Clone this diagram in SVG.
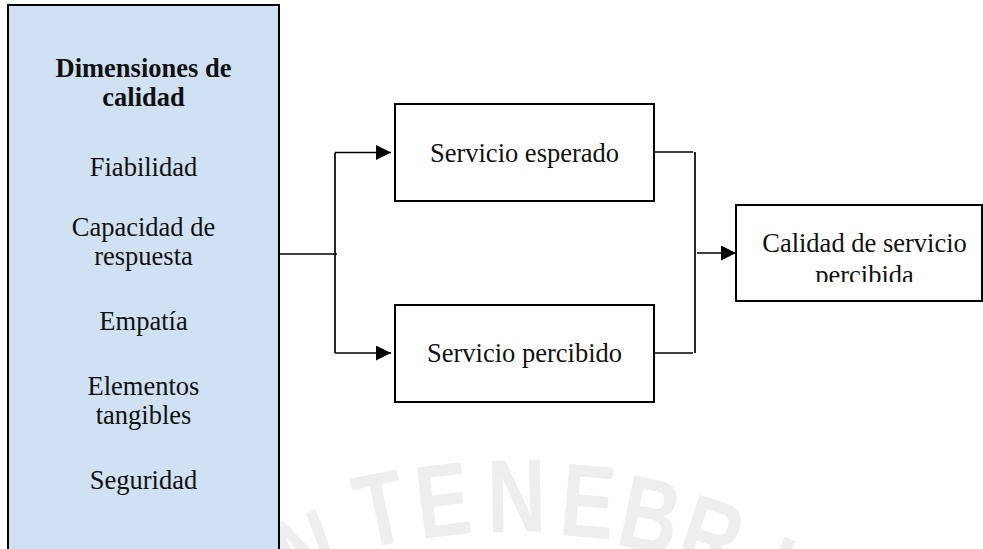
<svg xmlns="http://www.w3.org/2000/svg" width="983" height="549" viewBox="0 0 983 549">
  <style>
    .box { fill: #ffffff; stroke: #000000; stroke-width: 2; }
    .panel { fill: #cfe1f3; stroke: #000000; stroke-width: 2; }
    .lbl { font-family: "Liberation Serif", "Times New Roman", serif; font-size: 26.5px; fill: #111111; text-anchor: middle; }
    .hd { font-weight: bold; }
    .wire { fill: none; stroke: #000000; stroke-width: 1.7; }
    .mark { font-family: "Liberation Sans", Arial, sans-serif; font-weight: bold; font-size: 104px; fill: #eeeeee; text-anchor: middle; }
  </style>
  <defs>
    <marker id="arrow" markerWidth="15" markerHeight="15" viewBox="0 0 15 15" refX="15" refY="7.5" markerUnits="userSpaceOnUse" orient="auto">
      <path d="M0,0 L15,7.5 L0,15 Z" fill="#000000"/>
    </marker>
    <clipPath id="clipOut">
      <rect x="736" y="205" width="246" height="77"/>
    </clipPath>
  </defs>

  <rect width="983" height="549" fill="#ffffff"/>

  <!-- faint seal lettering in the background, one condensed letter per glyph along an arc -->
  <g id="seal">
    <text class="mark" transform="translate(318,585) rotate(-20) scale(0.78,1)">N</text>
    <text class="mark" transform="translate(388,544) rotate(-12) scale(0.78,1)">T</text>
    <text class="mark" transform="translate(447,536) rotate(-7) scale(0.78,1)">E</text>
    <text class="mark" transform="translate(517,532) rotate(-1) scale(0.78,1)">N</text>
    <text class="mark" transform="translate(585,537) rotate(5) scale(0.78,1)">E</text>
    <text class="mark" transform="translate(643,550) rotate(12) scale(0.78,1)">B</text>
    <text class="mark" transform="translate(700,570) rotate(18) scale(0.78,1)">R</text>
    <text class="mark" transform="translate(760,604) rotate(25) scale(0.78,1)">I</text>
  </g>

  <!-- left panel: quality dimensions -->
  <g id="dimensiones">
    <rect class="panel" x="8" y="5" width="271" height="570"/>
    <text class="lbl hd" x="143.5" y="77">Dimensiones de</text>
    <text class="lbl hd" x="143.5" y="106">calidad</text>
    <text class="lbl" x="143.5" y="176">Fiabilidad</text>
    <text class="lbl" x="143.5" y="236">Capacidad de</text>
    <text class="lbl" x="143.5" y="265">respuesta</text>
    <text class="lbl" x="143.5" y="330">Empatía</text>
    <text class="lbl" x="143.5" y="395">Elementos</text>
    <text class="lbl" x="143.5" y="424">tangibles</text>
    <text class="lbl" x="143.5" y="489">Seguridad</text>
  </g>

  <g id="esperado">
    <rect class="box" x="395" y="104" width="259" height="97"/>
    <text class="lbl" x="524.5" y="162">Servicio esperado</text>
  </g>

  <g id="percibido">
    <rect class="box" x="395" y="305" width="259" height="97"/>
    <text class="lbl" x="524.5" y="362">Servicio percibido</text>
  </g>

  <g id="calidad-percibida">
    <rect class="box" x="736" y="205" width="246" height="96"/>
    <g clip-path="url(#clipOut)">
      <text class="lbl" x="864.5" y="252">Calidad de servicio</text>
      <text class="lbl" x="864.5" y="284">percibida</text>
    </g>
  </g>

  <g id="connectors">
    <path class="wire" d="M279,254 H337"/>
    <path class="wire" d="M335,152.5 V353"/>
    <path class="wire" d="M335,152.5 H391" marker-end="url(#arrow)"/>
    <path class="wire" d="M335,353 H391" marker-end="url(#arrow)"/>
    <path class="wire" d="M654,152 H693"/>
    <path class="wire" d="M654,353 H693"/>
    <path class="wire" d="M695,152 V353"/>
    <path class="wire" d="M697,253 H736" marker-end="url(#arrow)"/>
  </g>
</svg>
